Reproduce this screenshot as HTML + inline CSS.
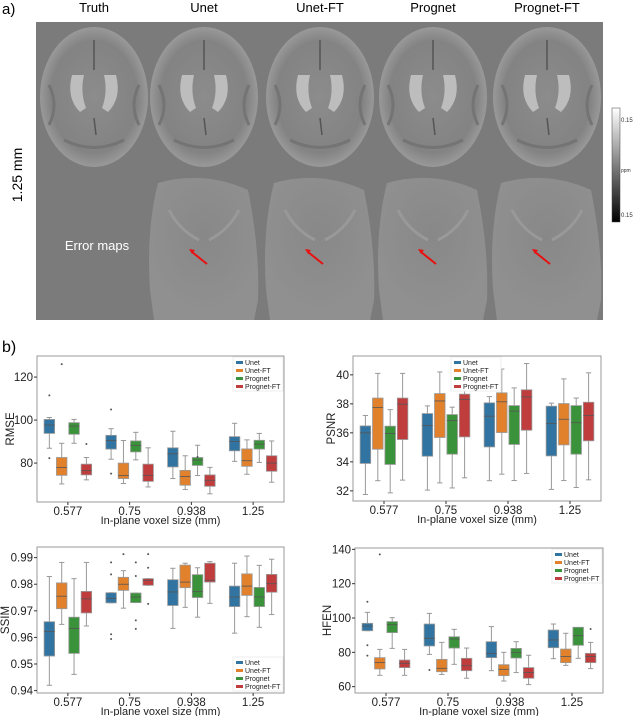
<!DOCTYPE html>
<html><head><meta charset="utf-8"><style>
html,body{margin:0;padding:0;background:#fff;width:640px;height:716px;overflow:hidden;font-family:"Liberation Sans",sans-serif}
svg text{font-family:"Liberation Sans",sans-serif}
</style></head><body>
<svg id="fig" width="640" height="716" viewBox="0 0 640 716" xmlns="http://www.w3.org/2000/svg">
<defs>
<radialGradient id="brainG" cx="50%" cy="50%" r="50%"><stop offset="0" stop-color="#8c8c8c"/><stop offset="0.8" stop-color="#838383"/><stop offset="1" stop-color="#999"/></radialGradient>
<radialGradient id="errG" cx="50%" cy="40%" r="55%"><stop offset="0" stop-color="#888"/><stop offset="1" stop-color="#909090"/></radialGradient>
<linearGradient id="cbG" x1="0" y1="0" x2="0" y2="1"><stop offset="0" stop-color="#fff"/><stop offset="0.5" stop-color="#808080"/><stop offset="1" stop-color="#000"/></linearGradient>
</defs>
<g>
<text x="2" y="14" font-size="15">a)</text>
<rect x="36" y="22" width="567" height="298" fill="#7b7b7b"/>
<g id="brains"></g>
<text x="0" y="0" font-size="14" transform="translate(22,175) rotate(-90)" text-anchor="middle">1.25 mm</text>
<text x="97" y="250" font-size="13" fill="#fff" text-anchor="middle">Error maps</text>
<rect x="612" y="108" width="8" height="114" fill="url(#cbG)" stroke="#444" stroke-width="0.5"/>
<text x="621" y="122" font-size="6" fill="#333">0.15</text>
<text x="621" y="172" font-size="5" fill="#333">ppm</text>
<text x="621" y="217" font-size="6" fill="#333">0.15</text>
</g>
<text x="2" y="352" font-size="16">b)</text>
<g id="charts"></g>
</svg>
<script>
const NS="http://www.w3.org/2000/svg";
function mk(tag,attrs,parent){const e=document.createElementNS(NS,tag);for(const k in attrs)e.setAttribute(k,attrs[k]);parent.appendChild(e);return e;}

// ---- panel a images ----
const colTitles=["Truth","Unet","Unet-FT","Prognet","Prognet-FT"];
const colX=[94,204,320,433,547];
const brains=document.getElementById('brains');
colTitles.forEach((t,i)=>{
  const tx=mk('text',{x:colX[i],y:12,'font-size':13,'text-anchor':'middle'},brains);
  tx.textContent=t;
  
  
  const g=mk('g',{},brains);
  
  
  const cx=colX[i];
  mk('ellipse',{cx:cx,cy:97,rx:54,ry:70,fill:'url(#brainG)'},g);
  mk('path',{d:`M${cx-22},${75} Q${cx-28},${98} ${cx-14},${112} L${cx-8},${108} Q${cx-14},${92} ${cx-10},${75}Z`,fill:'#bdbdbd'},g);
  mk('path',{d:`M${cx+22},${75} Q${cx+28},${98} ${cx+14},${112} L${cx+8},${108} Q${cx+14},${92} ${cx+10},${75}Z`,fill:'#bdbdbd'},g);
  mk('path',{d:`M${cx},40 L${cx},70 M${cx},118 L${cx+2},135`,stroke:'#555',fill:'none','stroke-width':1.5},g);
  mk('path',{d:`M${cx-45},85 q10,20 0,40 M${cx+45},85 q-10,20 0,40 M${cx-30},140 q30,15 60,0`,stroke:'#747474',fill:'none','stroke-width':3},g);
  if(i>0){
    const e=mk('g',{},brains);
    
    
    mk('path',{d:`M${cx-46},183 Q${cx},170 ${cx+44},190 Q${cx+56},250 ${cx+54},300 L${cx+50},320 L${cx-50},320 L${cx-54},290 Q${cx-58},230 ${cx-46},183Z`,fill:'url(#errG)'},e);
    mk('path',{d:`M${cx-35},210 q10,20 30,30 M${cx+35},210 q-10,20 -30,30`,stroke:'#999',fill:'none','stroke-width':3},e);
    mk('line',{x1:cx+3,y1:264,x2:cx-12,y2:252,stroke:'#e81010','stroke-width':2},e);
    mk('path',{d:`M${cx-15},249 l6,1 l-3,4z`,fill:'#e81010'},e);
  }
});

// ---- box plot data ----
const categories=["0.577","0.75","0.938","1.25"];
const hues=["Unet","Unet-FT","Prognet","Prognet-FT"];
const hueColors=["#3274a1","#e1812c","#3a923a","#c03d3e"];

const rmseQ1=[[93.8,74.3,93.4,74.5],[86.5,72.8,85.2,71.5],[78.2,69.7,78.9,69.2],[85.7,78.5,86.5,76.2]];
const rmseMed=[[97.7,78,97.2,76.5],[90.5,74.2,88.2,74.3],[84.3,73.8,81.4,72],[90,81.1,88.8,80]];
const rmseQ3=[[100.3,82.6,98.8,79.5],[92.9,80,90.3,79.5],[87.1,76.6,82.6,74.5],[92.3,86.6,90.6,83.4]];
const rmseLo=[[86.9,70.3,89.2,72.2],[81.8,70.5,81.5,68.9],[72.8,67.7,74.2,65.7],[80.8,74.8,80.3,71.1]];
const rmseHi=[[101.2,89.2,100.3,82.6],[96,90.5,94.3,87.1],[94.8,83.4,88.3,78],[98.5,90.8,93.8,90.3]];
const rmseOut=[[[111.5,82.3],[126],[],[88.9]],[[104.9,75.1],[],[],[]],[[],[],[82.8],[]],[[],[],[],[]]];

const psnrQ1=[[33.89,34.87,33.82,35.54],[34.39,35.68,34.53,35.72],[35.03,36.02,35.2,36.18],[34.41,35.17,34.53,35.45]];
const psnrMed=[[36.0,37.75,35.95,37.98],[36.5,38.2,36.85,38.3],[37.15,38.14,37.5,38.48],[36.65,36.94,36.7,37.2]];
const psnrQ3=[[36.48,38.4,36.46,38.4],[37.33,38.71,37.26,38.67],[38.07,38.76,37.88,38.97],[37.84,38.02,37.88,38.11]];
const psnrLo=[[31.75,32.7,31.86,32.74],[32.05,32.55,32.2,32.9],[32.7,33.15,32.71,33.2],[32.1,32.71,32.23,32.76]];
const psnrHi=[[37.2,40.1,37.6,40.1],[37.86,40.2,37.77,39.7],[38.5,40.4,39.1,40.78],[38.05,39.72,38.4,40.14]];
const psnrOut=[[[],[],[],[]],[[],[],[],[]],[[],[],[],[]],[[],[],[],[]]];

const ssimQ1=[[0.9530,0.9708,0.9540,0.9692],[0.9730,0.9777,0.9731,0.9796],[0.9720,0.9787,0.9750,0.9808],[0.9716,0.9758,0.9716,0.9770]];
const ssimMed=[[0.9622,0.9755,0.9634,0.9745],[0.9747,0.9800,0.9752,0.9815],[0.9771,0.9808,0.9772,0.9815],[0.9752,0.9793,0.9752,0.9802]];
const ssimQ3=[[0.9659,0.9805,0.9676,0.9773],[0.9768,0.9826,0.9767,0.9821],[0.9817,0.9872,0.9836,0.9879],[0.9793,0.9839,0.9788,0.9837]];
const ssimLo=[[0.9420,0.9649,0.9461,0.9643],[0.9730,0.9710,0.9731,0.9796],[0.9634,0.9713,0.9676,0.9728],[0.9616,0.9678,0.9638,0.9686]];
const ssimHi=[[0.9829,0.9882,0.9821,0.9882],[0.9768,0.9851,0.9767,0.9821],[0.9860,0.9879,0.9862,0.9885],[0.9879,0.9906,0.9871,0.9894]];
const ssimOut=[[[],[],[],[]],[[0.9882,0.9837,0.9612,0.9594],[0.9913],[0.9882,0.9831,0.9664,0.9632],[0.9913,0.9862,0.9726]],[[],[],[],[]],[[],[],[],[]]];

const hfenQ1=[[92.6,70.3,91.5,71.1],[83.7,68.7,82.5,69.3],[76.9,66.4,76.7,64.9],[82.7,74,84.1,74]];
const hfenMed=[[95.3,74,96.1,73.6],[88.2,70.7,87.8,72.2],[79.4,70.1,79.8,68.2],[87.2,77.5,89.7,77.5]];
const hfenQ3=[[96.9,76.9,97.9,75.5],[96.5,75.9,89.1,76.5],[86.2,72.8,82.3,71.1],[93,81.9,94.6,79.4]];
const hfenLo=[[92.6,66.6,82.3,66.6],[78.8,67.1,73,64.9],[69.3,63.3,68.2,61.2],[76.3,72.4,76.5,70.5]];
const hfenHi=[[103.3,81.7,100.2,81.7],[102.7,85.8,93.4,82.5],[95,80,86.2,78.3],[96.5,91.1,93.6,85.8]];
const hfenOut=[[[109.5,84.1,78.1],[137.1],[],[]],[[69.7],[],[],[]],[[],[],[],[]],[[],[],[],[93.6]]];

const rmseTicks=[80,100,120];
const psnrTicks=[32,34,36,38,40];
const ssimTicks=[0.94,0.95,0.96,0.97,0.98,0.99];
const hfenTicks=[60,80,100,120,140];

const charts=document.getElementById('charts');
function drawChart(cfg){
  const {name,x0,x1,y0,y1,vmin,vmax,q1,med,q3,lo,hi,out,ticks,fmt,title,titleX,legend}=cfg;
  const g=mk('g',{},charts);
  
  
  const ys=v=>y1-(v-vmin)/(vmax-vmin)*(y1-y0);
  const cw=(x1-x0)/categories.length;
  const xs=(c,h)=>x0+cw*(c+0.5)+(h-1.5)*cw*0.2;
  const bw=cw*0.2*0.85;
  const fr=mk('rect',{x:x0,y:y0,width:x1-x0,height:y1-y0,fill:'#fff',stroke:'#999','stroke-width':1},g);
  
  
  ticks.forEach(t=>{
    const y=ys(t);
    mk('line',{x1:x0-3,x2:x0,y1:y,y2:y,stroke:'#333'},g);
    const tt=mk('text',{x:x0-4,y:y+4,'font-size':11.5,'text-anchor':'end',fill:'#222'},g);
    tt.textContent=fmt(t);
    
    
  });
  categories.forEach((c,i)=>{
    const x=x0+cw*(i+0.5);
    mk('line',{x1:x,x2:x,y1:y1,y2:y1+3,stroke:'#333'},g);
    const tt=mk('text',{x:x,y:y1+13,'font-size':11.5,'text-anchor':'middle',fill:'#222'},g);
    tt.textContent=c;
    
    
  });
  const xt=mk('text',{x:(x0+x1)/2,y:y1+22,'font-size':11,'text-anchor':'middle',fill:'#222'},g);
  xt.textContent='In-plane voxel size (mm)';
  
  
  const yt=mk('text',{x:0,y:0,'font-size':11.5,'text-anchor':'middle',fill:'#222',transform:`translate(${titleX},${(y0+y1)/2}) rotate(-90)`},g);
  yt.textContent=title;
  
  
  categories.forEach((c,ci)=>{
    hues.forEach((h,hi_)=>{
      const x=xs(ci,hi_);
      const bg=mk('g',{},g);
      
      
      mk('line',{x1:x,x2:x,y1:ys(hi[ci][hi_]),y2:ys(q3[ci][hi_]),stroke:'#999','stroke-width':1},bg);
      mk('line',{x1:x,x2:x,y1:ys(q1[ci][hi_]),y2:ys(lo[ci][hi_]),stroke:'#999','stroke-width':1},bg);
      mk('line',{x1:x-bw/4,x2:x+bw/4,y1:ys(hi[ci][hi_]),y2:ys(hi[ci][hi_]),stroke:'#999'},bg);
      mk('line',{x1:x-bw/4,x2:x+bw/4,y1:ys(lo[ci][hi_]),y2:ys(lo[ci][hi_]),stroke:'#999'},bg);
      const top=ys(q3[ci][hi_]),bot=ys(q1[ci][hi_]);
      mk('rect',{x:x-bw/2,y:top,width:bw,height:Math.max(1,bot-top),fill:hueColors[hi_],stroke:'#999','stroke-width':0.8},bg);
      mk('line',{x1:x-bw/2,x2:x+bw/2,y1:ys(med[ci][hi_]),y2:ys(med[ci][hi_]),stroke:'#555','stroke-width':0.8},bg);
      out[ci][hi_].forEach(v=>{
        const o=mk('circle',{cx:x,cy:ys(v),r:1,fill:'#555'},bg);
        
        
      });
    });
  });
  const lg=mk('g',{},g);
  
  
  mk('rect',{x:legend[0]-3,y:legend[1]-4,width:50,height:34,fill:'#fff',stroke:'#eee'},lg);
  hues.forEach((h,i)=>{
    const ly=legend[1]+i*8;
    mk('rect',{x:legend[0],y:ly,width:7,height:3,fill:hueColors[i]},lg);
    const lt=mk('text',{x:legend[0]+9,y:ly+4,'font-size':7,fill:'#222'},lg);
    lt.textContent=h;
    
    
  });
}
drawChart({name:'rmse',x0:37,x1:284,y0:356,y1:502,vmin:61.9,vmax:129.8,q1:rmseQ1,med:rmseMed,q3:rmseQ3,lo:rmseLo,hi:rmseHi,out:rmseOut,ticks:rmseTicks,fmt:t=>t,title:'RMSE',titleX:14,legend:[236,361]});
drawChart({name:'psnr',x0:353,x1:601,y0:356,y1:501,vmin:31.3,vmax:41.3,q1:psnrQ1,med:psnrMed,q3:psnrQ3,lo:psnrLo,hi:psnrHi,out:psnrOut,ticks:psnrTicks,fmt:t=>t,title:'PSNR',titleX:335,legend:[454,361]});
drawChart({name:'ssim',x0:37,x1:284,y0:547,y1:693,vmin:0.9391,vmax:0.994,q1:ssimQ1,med:ssimMed,q3:ssimQ3,lo:ssimLo,hi:ssimHi,out:ssimOut,ticks:ssimTicks,fmt:t=>t.toFixed(2),title:'SSIM',titleX:9,legend:[236,661]});
drawChart({name:'hfen',x0:355,x1:603,y0:548,y1:693,vmin:56.3,vmax:140.8,q1:hfenQ1,med:hfenMed,q3:hfenQ3,lo:hfenLo,hi:hfenHi,out:hfenOut,ticks:hfenTicks,fmt:t=>t,title:'HFEN',titleX:331,legend:[555,553]});
</script>
</body></html>
